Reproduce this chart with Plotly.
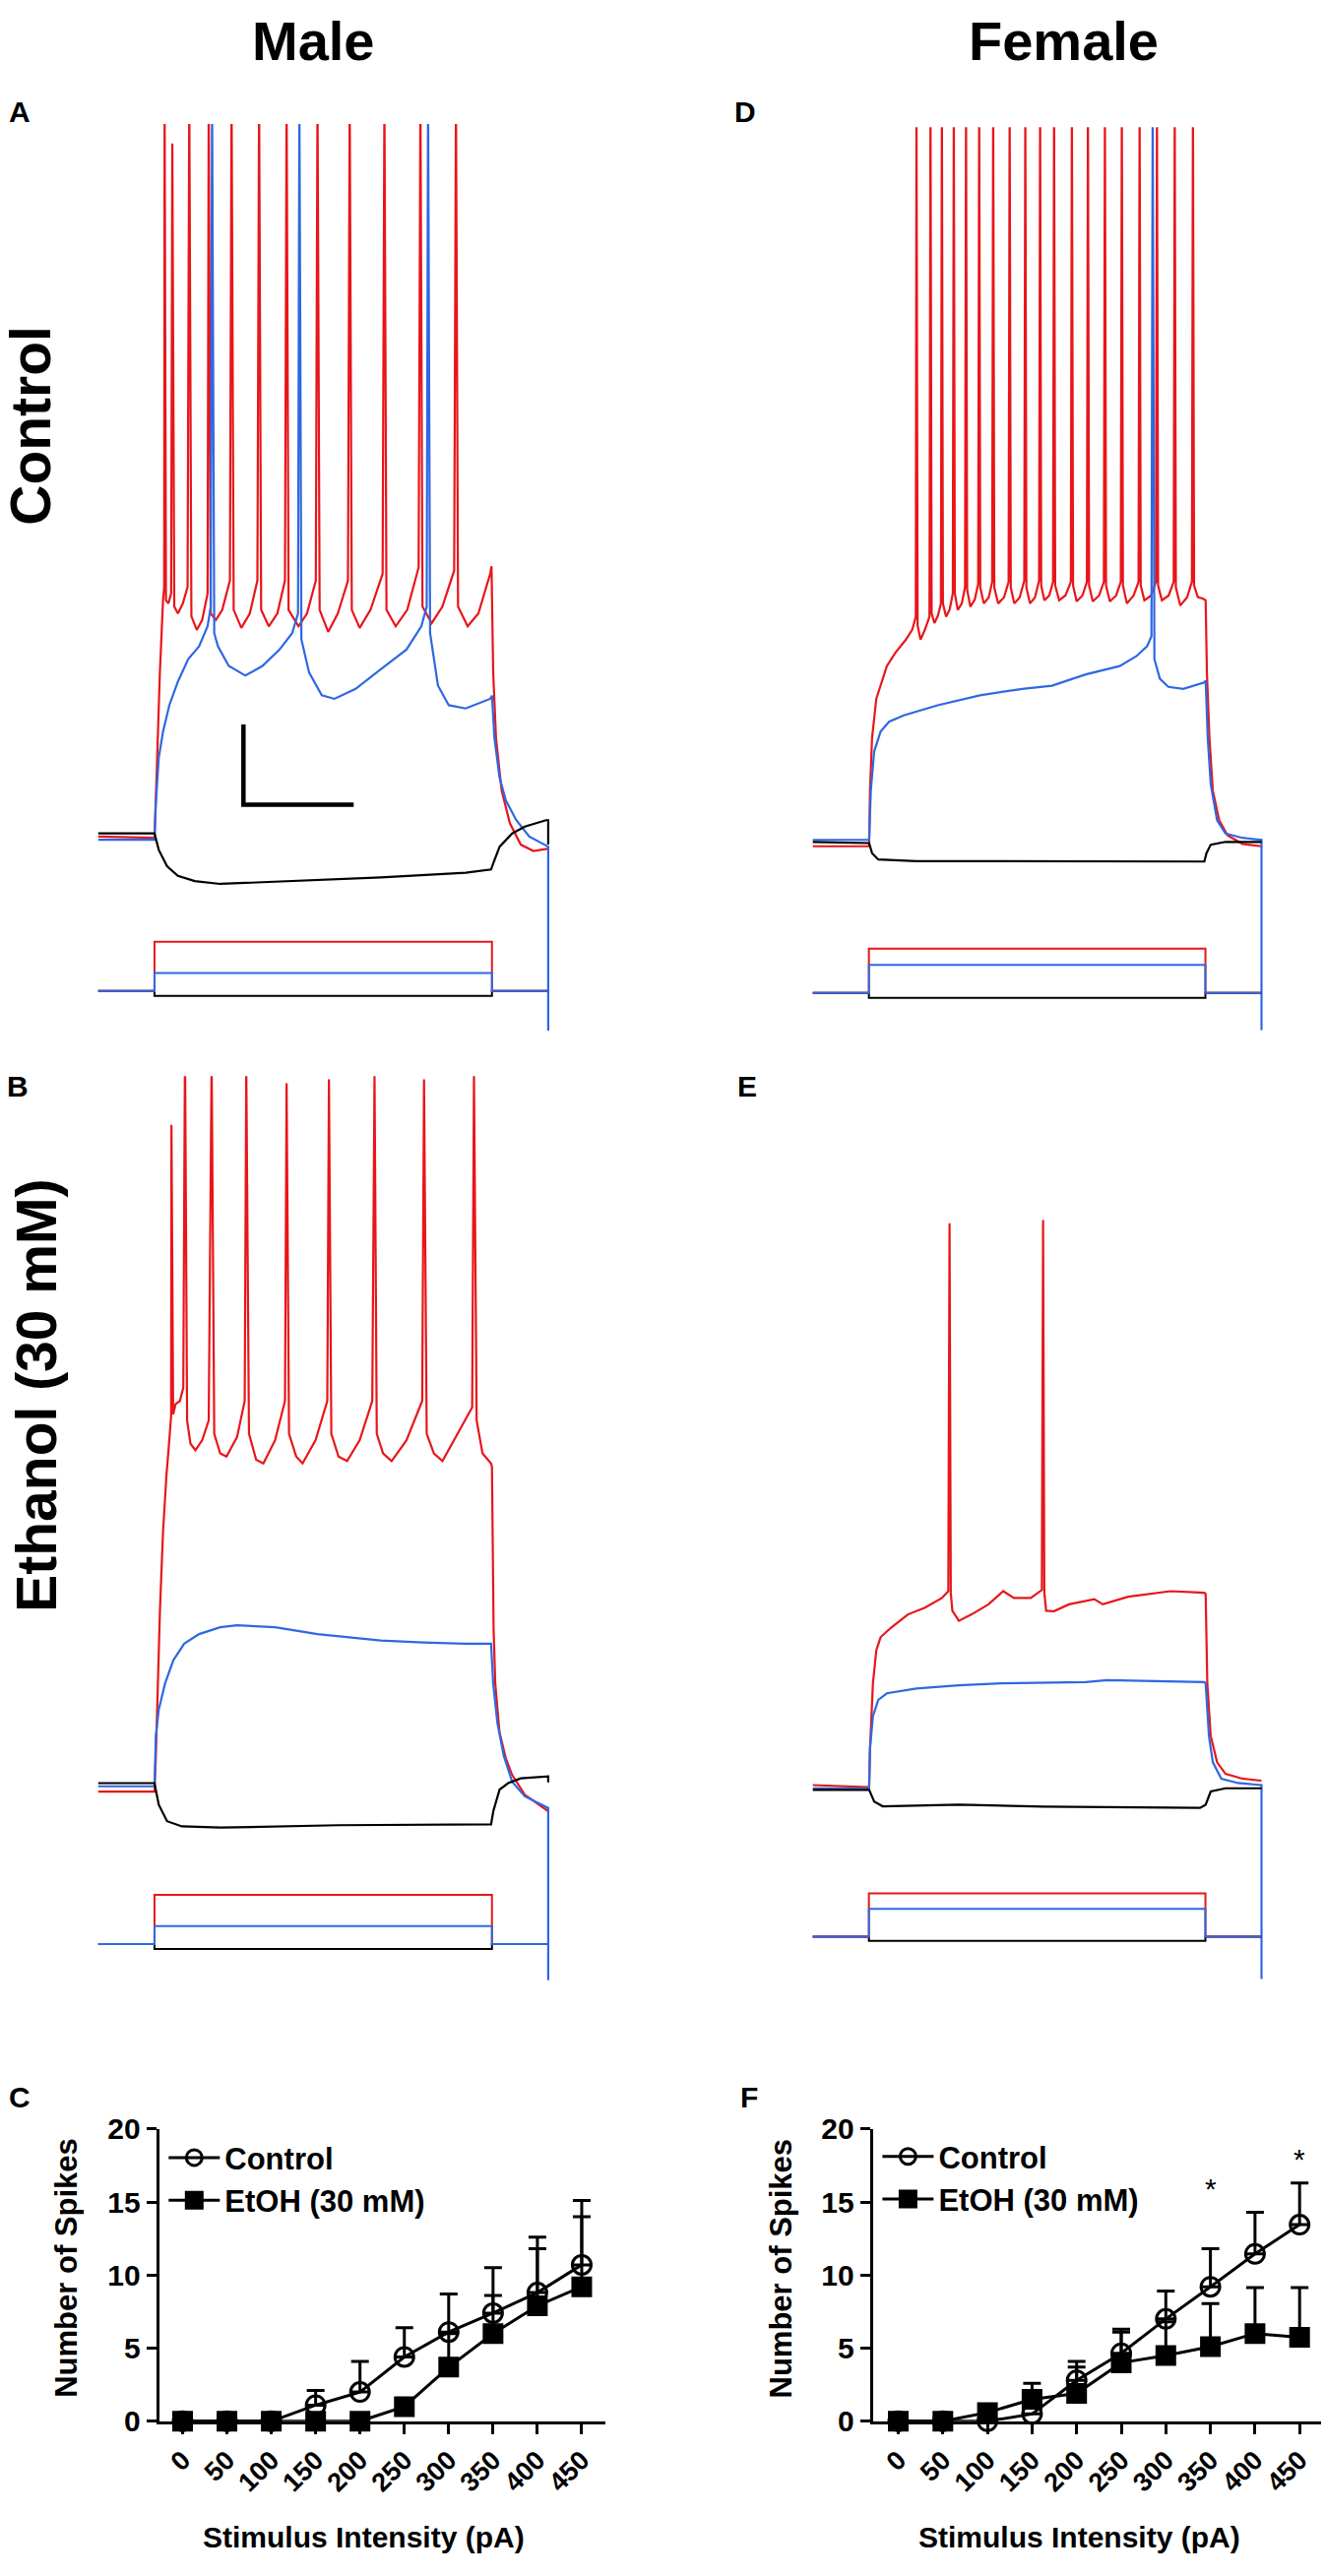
import plotly.graph_objects as go

W, H = 1346, 2617
RED = 'rgb(232,22,26)'
BLUE = 'rgb(46,104,226)'
BLACK = 'rgb(0,0,0)'
FONT = 'Liberation Sans, Arial, sans-serif'

# ---------------- current-clamp traces (time ms, membrane potential mV) ----------------
# Panel A (male, control)
A_RED_ENV = [[0, -70], [125, -70.3], [130, -53.6], [137, -29], [144, -11], [146.5, -7.7],
             [150.5, -11], [156, -11.8], [162, -9.3],
             [169, -12.6], [177, -14.3], [188, -11.8], [198.5, -7.7],
             [207, -15], [219, -18.4], [231, -15.9], [243, -9.3],
             [250, -14.3], [261.5, -15.9], [275.6, -13.4], [292.6, -6.1],
             [301, -13.4], [318, -17.9], [336.8, -14.3], [353.7, -6.1],
             [362, -13.4], [379, -17.5], [398, -14.3], [415, -6.1],
             [423, -13.4], [445, -17.5], [464, -14.3], [483.5, -6.1],
             [492, -13.4], [511, -18.9], [532.4, -14.3], [555, -6.1],
             [563.5, -13.4], [581, -17.9], [605, -13.4], [632, -4.4],
             [640.6, -13.4], [661, -17.5], [686.7, -13.4], [712, -2.8],
             [720.6, -12.6], [741, -16.7], [764.8, -12.6], [791, -3.6],
             [799.6, -12.6], [821, -17.5], [844.8, -14.3], [871, -4.4], [874, -2.5],
             [877.7, -29], [884, -45.4], [896.5, -58.5], [915, -66.7], [939, -72], [967, -73.6], [1000, -73]]
A_RED_SPIKE_T = [147.5, 164.6, 202.3, 245.5, 296.3, 357.5, 418.6, 487.3, 558.8, 636, 716, 795]
A_RED_SPIKE_V = [115, 103, 115, 115, 115, 115, 115, 115, 115, 115, 115, 115]

A_BLUE_ENV = [[0, -70.8], [125, -70.8], [128, -61.8], [134.5, -50.3], [144, -43.8], [158, -37.2],
              [177, -31.3], [200, -25.7], [224, -22.5], [243, -17.5], [250, -12.6],
              [257.8, -19.2], [266, -22.5], [290, -27.4], [327, -29.8], [365, -27.4], [403, -23.3],
              [431, -19.2], [444, -14.3],
              [451.5, -20.8], [468.5, -29], [496.7, -34.7], [525, -35.6], [572, -33.1], [628, -28.2],
              [685, -23.3], [718, -17.5], [730, -12.6],
              [737.5, -19.2], [755, -32.3], [779, -37.2], [816.5, -38], [871, -35.6], [875, -34.8],
              [880.5, -45.4], [891.8, -55.2], [906, -61], [929, -65.9], [958, -70], [1000, -72.5],
              [1000, -118.4]]
A_BLUE_SPIKE_T = [253, 447, 733]
A_BLUE_SPIKE_V = [115, 115, 115]

A_BLACK = [[0, -69.2], [125, -69.2], [134.5, -73.3], [153, -77.4], [177, -79.8], [214.5, -81.1],
           [271, -81.8], [440, -81.1], [628, -80.2], [816.5, -79], [873, -78.2], [878, -76.6],
           [892, -72.5], [920, -69.2], [948, -67.5], [995, -65.9], [1000, -65.9], [1000, -72]]

# Panel B (male, ethanol)
B_RED_ENV = [[0, -70.8], [125, -70.8], [128, -62], [131.7, -45], [137.3, -25], [144, -6],
             [151.5, 8], [158, 17], [162, 23],
             [166.5, 23.4], [172, 25.9], [181.5, 26.7], [189, 30],
             [197.5, 21.8], [205, 16], [216, 14.4], [231, 16.9], [245.5, 21.8],
             [257.8, 18.5], [271, 13.6], [285, 12.8], [308.5, 17.7], [325.5, 26.7],
             [335, 18.5], [351, 12], [367, 11.1], [393, 16.9], [415, 26.7],
             [424, 18.5], [440, 12.8], [454, 11.1], [483, 16.9], [509, 26.7],
             [518, 18.5], [534, 12.8], [553, 11.7], [581, 16.9], [609, 26.7],
             [619, 18.5], [633, 13.6], [652, 11.7], [685, 16.9], [720, 26.7],
             [730, 18.5], [746, 13.6], [765, 11.7], [798, 18.5], [831, 25.1],
             [841, 21.8], [854, 13.6], [873, 11.1], [875, 10.3],
             [878.6, -30], [882.3, -43.8], [891.8, -56], [906, -62.6], [920, -66.7], [948, -71.6],
             [1000, -75.7]]
B_RED_SPIKE_T = [162.7, 192.8, 252, 329, 418.6, 512.7, 614, 724, 835]
B_RED_SPIKE_V = [95.6, 115, 112, 110, 106, 107, 108, 107, 108]

B_BLUE = [[0, -69.5], [125, -69.5], [128, -56.9], [134.5, -50.3], [148.6, -43.8], [167, -38],
          [191, -33.9], [224, -31.5], [271, -29.8], [308.5, -29.3], [393, -29.8], [487, -31.5],
          [628, -33.1], [722.5, -33.6], [816.5, -33.9], [873, -33.9], [877.7, -43.8], [887, -53.6],
          [901, -61.8], [920, -68.4], [948, -72], [1000, -74.9], [1000, -117.9]]

B_BLACK = [[0, -68.7], [125, -68.7], [134.5, -74.1], [153, -78.2], [186, -79.5], [271, -79.8],
           [534, -79.2], [816.5, -79], [873, -79], [878, -75.7], [892, -70.3], [911, -68.7],
           [939, -67.5], [1000, -67], [1000, -68.5]]

# Panel D (female, control)
D_RED_ENV = [[0, -71.1], [125.5, -71.1], [127.4, -57.2], [132, -44.1], [141.5, -34.3], [151, -31],
             [165, -26.1], [184, -22.8], [207.5, -19.5], [221.7, -17], [229.5, -13.8],
             [233.5, -16], [240, -19.5], [250, -17], [260, -13.8],
             [264.8, -13], [271, -15.4], [279, -13.5], [285.5, -10.5],
             [290, -10.5], [297, -13.8], [305, -12], [312, -8],
             [316.5, -8], [323, -12.1], [332, -10.5], [339.3, -6.4],
             [344, -7], [351, -11.3], [361, -9.5], [368.5, -5.6],
             [373.2, -6.5], [381, -10.5], [392, -9], [399.7, -5.1],
             [404.5, -6.5], [413, -10.5], [426, -9], [436.4, -5.1],
             [441.2, -6.5], [449, -10.5], [461, -9], [471.3, -4.8],
             [476, -6.5], [484, -10.5], [495, -9], [504.3, -4.8],
             [509, -6], [516, -9.7], [527, -8.5], [535.4, -5.1],
             [540.2, -6], [549, -9.7], [563, -8.5], [575.1, -5.1],
             [580, -6], [588, -10], [601, -8.5], [610.9, -5.1],
             [615.7, -6], [624, -10], [638, -8.5], [648.7, -5.1],
             [653.5, -6], [662, -10], [676, -8.5], [686.4, -5.1],
             [691.2, -6], [700, -10.5], [715, -8.5], [726, -5.1],
             [730.8, -6], [739, -9.7], [754, -8.5], [764.7, -5.1],
             [769.5, -6], [778, -9.7], [793, -8.5], [804.3, -5.1],
             [809.1, -6.5], [819, -11], [834, -9], [844.9, -5.1],
             [849.7, -6], [858, -8.9], [870, -9.3], [875.5, -9.7],
             [878.3, -27.7], [884, -44.1], [891.5, -57.2], [905.7, -64.6], [924.5, -68.4],
             [957.5, -70.5], [1000, -71.1]]
D_RED_SPIKE_T = [231, 262.3, 287.7, 314.2, 341.5, 370.8, 402, 438.7, 473.6, 506.6,
                 537.7, 577.4, 613.2, 651, 688.7, 728.3, 767, 806.6, 847.2]
D_RED_SPIKE_V = [115] * 19

D_BLUE_ENV = [[0, -69.5], [125.5, -69.5], [129.3, -57.2], [136.8, -47.4], [151, -42.5],
              [169.8, -40], [202.8, -38.4], [278.3, -35.9], [372.6, -33.4], [467, -31.8],
              [533, -31], [608.5, -28.2], [684, -26.1], [721.7, -23.6], [745.3, -21.1],
              [754.7, -18.7],
              [761.3, -24.4], [773.6, -29.3], [792.5, -31.3], [825.5, -31.8], [872.6, -30.2],
              [875.5, -29.7], [880.2, -44.1], [886.8, -55.6], [901, -64.6], [919.8, -67.9],
              [957.5, -69], [1000, -69.5], [1000, -117]]
D_BLUE_SPIKE_T = [757.5]
D_BLUE_SPIKE_V = [115]

D_BLACK = [[0, -70], [125.5, -70.3], [132, -72.8], [146, -74.4], [231, -74.8], [514, -74.9],
           [872.6, -74.9], [877.4, -72.8], [886.8, -70.7], [919.8, -70], [1000, -70]]

# Panel E (female, ethanol)
E_RED_ENV = [[0, -69.5], [125.5, -70], [127.4, -60.5], [134, -44.1], [141.5, -35.9], [151, -32.6],
             [174.5, -30.2], [212, -26.9], [250, -25.2], [287.7, -22.8], [302, -21.1],
             [307.5, -21.5], [311, -26], [325.5, -28.5], [353.8, -26.9], [391.5, -24.4],
             [424.5, -21.1], [448, -22.8], [485.8, -22.8], [510.5, -20.8],
             [516, -21.5], [520, -26], [537.7, -26.1], [570.8, -24.4], [627.4, -23.1],
             [646.2, -24.4], [702.8, -22.5], [797.2, -21.1], [872.6, -21.5], [875.5, -21.8],
             [879.2, -44.1], [886.8, -57.2], [901, -63.8], [919.8, -66.7], [957.5, -67.9],
             [1000, -68.4]]
E_RED_SPIKE_T = [304.7, 513.2]
E_RED_SPIKE_V = [70.7, 71.5]

E_BLUE = [[0, -70.3], [125.5, -70.3], [127.4, -60.5], [134, -52.3], [146, -48.2], [165, -46.6],
          [231, -45.4], [325.5, -44.6], [419.8, -44.1], [608.5, -43.8], [655.7, -43.3],
          [872.6, -43.8], [875.5, -44.1], [882.8, -57.2], [891.5, -63.8], [910.4, -67.9],
          [948, -69], [1000, -69.5], [1000, -117.9]]

E_BLACK = [[0, -70.7], [125.5, -70.7], [136.8, -73.6], [155.7, -74.8], [325.5, -74.4],
           [514, -74.9], [863, -75.2], [875.5, -74.4], [886.8, -71.1], [919.8, -70.3], [1000, -70.3]]

# current steps (pA): [red, blue, black] per panel
STEP_ON, STEP_OFF = 125, 875
STEPS_A = [300, 110, -30]
STEPS_B = [300, 110, -30]
STEPS_D = [270, 170, -30]
STEPS_E = [265, 170, -25]

# scale bar (panel A): 20 mV / ~245 ms
SCALE_T0, SCALE_V0, SCALE_MV, SCALE_MS = 322.7, -62.0, 20, 245

# ---------------- input-output curves ----------------
STIM_LABELS = ['0', '50', '100', '150', '200', '250', '300', '350', '400', '450']
C_CTRL = [0, 0, 0, 1.1, 2.0, 4.4, 6.1, 7.4, 8.8, 10.7]
C_CTRL_ERR = [0, 0, 0, 1.0, 2.1, 2.0, 2.6, 3.1, 3.8, 4.4]
C_ETOH = [0, 0, 0, 0, 0, 1.0, 3.7, 6.0, 7.9, 9.2]
C_ETOH_ERR = [0, 0, 0, 0, 0, 0, 2.3, 2.6, 3.9, 4.8]
F_CTRL = [0, 0, 0, 0.5, 2.8, 4.65, 7.0, 9.2, 11.45, 13.45]
F_CTRL_ERR = [0, 0, 0, 0, 1.3, 1.65, 1.9, 2.6, 2.85, 2.85]
F_ETOH = [0, 0, 0.6, 1.5, 1.9, 4.0, 4.5, 5.1, 6.0, 5.75]
F_ETOH_ERR = [0, 0, 0, 1.1, 1.8, 2.1, 2.3, 2.95, 3.15, 3.4]
F_SIG_IDX = [7, 9]
F_SIG_Y = [15.9, 17.9]

# ---------------- layout helpers ----------------
K_MV = 4.122    # px per mV
K_PA = 0.1689   # px per pA
LW = 2.2
layout = {}
fig = go.Figure()


def ax_names(n):
    return ('xaxis' if n == 1 else f'xaxis{n}', 'yaxis' if n == 1 else f'yaxis{n}',
            'x' if n == 1 else f'x{n}', 'y' if n == 1 else f'y{n}')


def trace_panel(n, x0, x1, base, vtop, zero_pa):
    def px(t):
        return x0 + t * (x1 - x0) / 1000.0
    xd = [px(-20) / W, px(1020) / W]
    vbot = -125
    ytop = base - (vtop + 70) * K_MV
    ybot = base - (vbot + 70) * K_MV
    xa, ya, xr, yr = ax_names(n)
    layout[xa] = dict(domain=xd, range=[-20, 1020], visible=False, anchor=yr)
    layout[ya] = dict(domain=[1 - ybot / H, 1 - ytop / H], range=[vbot, vtop], visible=False, anchor=xr)
    xa2, ya2, xr2, yr2 = ax_names(n + 1)
    lo, hi = -200, 500
    layout[xa2] = dict(domain=xd, range=[-20, 1020], visible=False, anchor=yr2)
    layout[ya2] = dict(domain=[1 - (zero_pa - lo * K_PA) / H, 1 - (zero_pa - hi * K_PA) / H],
                       range=[lo, hi], visible=False, anchor=xr2)
    return (xr, yr), (xr2, yr2)


def with_spikes(env, st, sv):
    pts = [tuple(p) for p in env] + list(zip(st, sv))
    pts.sort(key=lambda p: p[0])
    return [p[0] for p in pts], [p[1] for p in pts]


def add_line(xs, ys, color, refs, width=LW):
    fig.add_trace(go.Scatter(x=xs, y=ys, mode='lines', line=dict(color=color, width=width),
                             xaxis=refs[0], yaxis=refs[1], showlegend=False, hoverinfo='skip'))


def add_steps(steps, refs):
    order = [(steps[2], BLACK), (steps[0], RED), (steps[1], BLUE)]
    for amp, col in order:
        xs = [0, STEP_ON, STEP_ON, STEP_OFF, STEP_OFF, 1000]
        ys = [0, 0, amp, amp, 0, 0]
        add_line(xs, ys, col, refs, width=2.0)


def draw_panel(refs, red, blue, black, steps, stim_refs):
    add_steps(steps, stim_refs)
    add_line(red[0], red[1], RED, refs)
    add_line(blue[0], blue[1], BLUE, refs)
    add_line(black[0], black[1], BLACK, refs)


def unzip(pts):
    return [p[0] for p in pts], [p[1] for p in pts]


# panel geometry (pixels)
rA, sA = trace_panel(1, 99.8, 556.9, 844.6, 107.9, 1003.4)
rB, sB = trace_panel(3, 99.8, 556.9, 1823.8, 107.8, 1984.0)
rD, sD = trace_panel(5, 825.7, 1281.5, 850.0, 108.4, 1005.4)
rE, sE = trace_panel(7, 825.7, 1281.5, 1822.5, 108.4, 1976.5)

draw_panel(rA, with_spikes(A_RED_ENV, A_RED_SPIKE_T, A_RED_SPIKE_V),
           with_spikes(A_BLUE_ENV, A_BLUE_SPIKE_T, A_BLUE_SPIKE_V), unzip(A_BLACK), STEPS_A, sA)
draw_panel(rB, with_spikes(B_RED_ENV, B_RED_SPIKE_T, B_RED_SPIKE_V),
           unzip(B_BLUE), unzip(B_BLACK), STEPS_B, sB)
draw_panel(rD, with_spikes(D_RED_ENV, D_RED_SPIKE_T, D_RED_SPIKE_V),
           with_spikes(D_BLUE_ENV, D_BLUE_SPIKE_T, D_BLUE_SPIKE_V), unzip(D_BLACK), STEPS_D, sD)
draw_panel(rE, with_spikes(E_RED_ENV, E_RED_SPIKE_T, E_RED_SPIKE_V),
           unzip(E_BLUE), unzip(E_BLACK), STEPS_E, sE)

# scale bar
add_line([SCALE_T0, SCALE_T0, SCALE_T0 + SCALE_MS],
         [SCALE_V0 + SCALE_MV, SCALE_V0, SCALE_V0], BLACK, rA, width=4.5)

# ---------------- C and F plots ----------------
Y0_PX, Y20_PX = 2475.0, 2174.2


def io_axes(n, yaxis_px, cat0_px, spacing, xend_px):
    xa, ya, xr, yr = ax_names(n)
    left = (yaxis_px - cat0_px) / spacing
    right = (xend_px - cat0_px) / spacing
    common = dict(showline=True, linewidth=3, linecolor=BLACK, ticks='outside', ticklen=10,
                  tickwidth=2.5, tickcolor=BLACK, showgrid=False, zeroline=False, fixedrange=True)
    layout[xa] = dict(domain=[yaxis_px / W, xend_px / W], range=[left, right], anchor=yr,
                      tickmode='array', tickvals=list(range(len(STIM_LABELS))), ticktext=STIM_LABELS,
                      tickangle=-45, tickfont=dict(family=FONT, size=27, color=BLACK, weight='bold'),
                      **common)
    layout[ya] = dict(domain=[1 - Y0_PX / H, 1 - Y20_PX / H], range=[0, 20], anchor=xr,
                      tickmode='array', tickvals=[0, 5, 10, 15, 20],
                      tickfont=dict(family=FONT, size=30, color=BLACK, weight='bold'), **common)
    return xr, yr


def io_series(refs, y, err, name, symbol, legend):
    fig.add_trace(go.Scatter(
        x=list(range(len(y))), y=y, name=name, mode='lines+markers', legend=legend,
        xaxis=refs[0], yaxis=refs[1], cliponaxis=False,
        line=dict(color=BLACK, width=3),
        marker=dict(symbol=symbol, size=18 if symbol == 'square' else 19, color=BLACK,
                    line=dict(color=BLACK, width=3)),
        error_y=dict(type='data', array=err, arrayminus=[0] * len(err), symmetric=False,
                     color=BLACK, thickness=3, width=9),
        hoverinfo='skip'))


rC = io_axes(9, 161.7, 185.5, 45.05, 615.0)
rF = io_axes(10, 886.7, 912.5, 45.3, 1341.7)
io_series(rC, C_CTRL, C_CTRL_ERR, 'Control', 'circle-open', 'legend')
io_series(rC, C_ETOH, C_ETOH_ERR, 'EtOH (30 mM)', 'square', 'legend')
io_series(rF, F_CTRL, F_CTRL_ERR, 'Control', 'circle-open', 'legend2')
io_series(rF, F_ETOH, F_ETOH_ERR, 'EtOH (30 mM)', 'square', 'legend2')

annotations = []


def ann(text, xpx, ypx, size, angle=0, bold=True):
    annotations.append(dict(text=text, x=xpx / W, y=1 - ypx / H, xref='paper', yref='paper',
                            xanchor='center', yanchor='middle', showarrow=False, textangle=angle,
                            font=dict(family=FONT, size=size, color=BLACK,
                                      weight='bold' if bold else 'normal')))


ann('Male', 318, 26, 56)
ann('Female', 1080, 26, 56)
ann('Control', 31, 422, 57, angle=-90)
ann('Ethanol (30 mM)', 36.6, 1420, 57, angle=-90)
for lab, xp, yp in [('A', 20, 99), ('B', 17.5, 1101), ('C', 19.5, 2142),
                    ('D', 757, 99), ('E', 759, 1101), ('F', 761, 2142)]:
    ann(lab, xp, yp, 30)
for xp in (66.7, 793.4):
    ann('Number of Spikes', xp, 2317.3, 31, angle=-90)
ann('Stimulus Intensity (pA)', 369.8, 2594, 30)
ann('Stimulus Intensity (pA)', 1096.6, 2594, 30)
for i, yv in zip(F_SIG_IDX, F_SIG_Y):
    annotations.append(dict(text='*', x=i, y=yv, xref=rF[0], yref=rF[1], showarrow=False,
                            xanchor='center', yanchor='middle',
                            font=dict(family=FONT, size=30, color=BLACK)))

leg_common = dict(xanchor='left', yanchor='top', bgcolor='rgba(0,0,0,0)', borderwidth=0,
                  itemwidth=52, font=dict(family=FONT, size=31, color=BLACK, weight='bold'))
layout['legend'] = dict(x=166.3 / W, y=1 - 2176.7 / H, **leg_common)
layout['legend2'] = dict(x=891.4 / W, y=1 - 2175.5 / H, **leg_common)

fig.update_layout(width=W, height=H, margin=dict(l=0, r=0, t=0, b=0, pad=0), autosize=False,
                  paper_bgcolor='white', plot_bgcolor='rgba(0,0,0,0)', showlegend=True,
                  annotations=annotations, **layout)
fig.write_html('out.html', config={'displayModeBar': False},
               post_script="document.body.style.margin='0';document.body.style.padding='0';"
                           "document.documentElement.style.margin='0';")
